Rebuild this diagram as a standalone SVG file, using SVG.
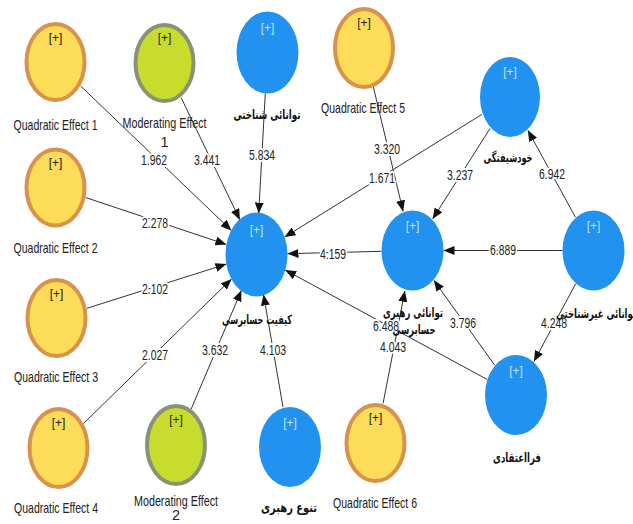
<svg xmlns="http://www.w3.org/2000/svg" width="633" height="524" viewBox="0 0 633 524">
<style>
.bg{fill:#ffffff}
.yel{fill:#fcdc58;stroke:#d8924c;stroke-width:4}
.grn{fill:#c7dc2c;stroke:#8a9276;stroke-width:4}
.blu{fill:#2192ef}
.plus{font-family:"Liberation Sans",sans-serif;font-size:12px;text-anchor:middle;fill:#222}
.plusb{font-family:"Liberation Sans",sans-serif;font-size:12px;text-anchor:middle;fill:#bfe3ff}
.lab{font-family:"Liberation Sans",sans-serif;font-size:14.5px;text-anchor:middle;fill:#222}
.fa{font-family:"DejaVu Sans",sans-serif;font-weight:bold;font-size:13px;text-anchor:middle;fill:#111}
.edge{stroke:#333;stroke-width:1;fill:none;marker-end:url(#arr)}
.w{font-family:"Liberation Sans",sans-serif;font-size:14px;text-anchor:middle;fill:#222;stroke:#fff;stroke-width:4;paint-order:stroke;stroke-linejoin:round}
</style>
<defs>
<marker id="arr" markerUnits="userSpaceOnUse" markerWidth="11" markerHeight="9" refX="11" refY="4.5" orient="auto">
<path d="M0,0 L11,4.5 L0,9 z" fill="#111"/>
</marker>
</defs>
<rect class="bg" x="0" y="0" width="633" height="524"/>
<g id="connectors">
<line class="edge" x1="80.6" y1="86" x2="231.4" y2="230.5"/>
<line class="edge" x1="181.1" y1="97.6" x2="239.9" y2="219.9"/>
<line class="edge" x1="265.3" y1="93.4" x2="258.7" y2="213.6"/>
<line class="edge" x1="85.6" y1="197.5" x2="226.4" y2="244.5"/>
<line class="edge" x1="86.6" y1="308.4" x2="226.4" y2="264.1"/>
<line class="edge" x1="83.4" y1="423.6" x2="231.6" y2="278.9"/>
<line class="edge" x1="191.1" y1="409.2" x2="241.4" y2="290.3"/>
<line class="edge" x1="283" y1="407" x2="263.5" y2="294.5"/>
<line class="edge" x1="381.5" y1="251.3" x2="287.5" y2="253.7"/>
<line class="edge" x1="481.9" y1="114.4" x2="284.6" y2="237.1"/>
<line class="edge" x1="487.3" y1="379.5" x2="285.2" y2="270"/>
<line class="edge" x1="373.4" y1="87.1" x2="403.1" y2="211.4"/>
<line class="edge" x1="490.1" y1="128.4" x2="432.6" y2="219.1"/>
<line class="edge" x1="562.5" y1="250.5" x2="443.5" y2="250.5"/>
<line class="edge" x1="575.4" y1="217.2" x2="527.9" y2="130.3"/>
<line class="edge" x1="575.6" y1="283.9" x2="533.9" y2="361.6"/>
<line class="edge" x1="494.7" y1="365.2" x2="433.8" y2="280.3"/>
<line class="edge" x1="383.1" y1="403.3" x2="404.9" y2="290.8"/>
<text class="w" x="154" y="165" textLength="26" lengthAdjust="spacingAndGlyphs">1.962</text>
<text class="w" x="207" y="165" textLength="26" lengthAdjust="spacingAndGlyphs">3.441</text>
<text class="w" x="262" y="160" textLength="26" lengthAdjust="spacingAndGlyphs">5.834</text>
<text class="w" x="155" y="228" textLength="26" lengthAdjust="spacingAndGlyphs">2.278</text>
<text class="w" x="155" y="294" textLength="26" lengthAdjust="spacingAndGlyphs">2.102</text>
<text class="w" x="155" y="360" textLength="26" lengthAdjust="spacingAndGlyphs">2.027</text>
<text class="w" x="215" y="355" textLength="26" lengthAdjust="spacingAndGlyphs">3.632</text>
<text class="w" x="273" y="355" textLength="26" lengthAdjust="spacingAndGlyphs">4.103</text>
<text class="w" x="333" y="259" textLength="26" lengthAdjust="spacingAndGlyphs">4.159</text>
<text class="w" x="382" y="183" textLength="26" lengthAdjust="spacingAndGlyphs">1.671</text>
<text class="w" x="386" y="331" textLength="26" lengthAdjust="spacingAndGlyphs">6.488</text>
<text class="w" x="387" y="154" textLength="26" lengthAdjust="spacingAndGlyphs">3.320</text>
<text class="w" x="460" y="180" textLength="26" lengthAdjust="spacingAndGlyphs">3.237</text>
<text class="w" x="503" y="255" textLength="26" lengthAdjust="spacingAndGlyphs">6.889</text>
<text class="w" x="552" y="179" textLength="26" lengthAdjust="spacingAndGlyphs">6.942</text>
<text class="w" x="554" y="328" textLength="26" lengthAdjust="spacingAndGlyphs">4.248</text>
<text class="w" x="463" y="328" textLength="26" lengthAdjust="spacingAndGlyphs">3.796</text>
<text class="w" x="393" y="352" textLength="26" lengthAdjust="spacingAndGlyphs">4.043</text>
</g>
<g id="qe1">
<ellipse class="yel" cx="55.5" cy="62" rx="29" ry="38"/>
<text class="plus" x="55.5" y="42">[+]</text>
<text class="lab" x="55.5" y="130" textLength="84" lengthAdjust="spacingAndGlyphs">Quadratic Effect 1</text>
</g>
<g id="me1">
<ellipse class="grn" cx="164.5" cy="63" rx="29" ry="38"/>
<text class="plus" x="164.5" y="42">[+]</text>
<text class="lab" x="164.5" y="128" textLength="84" lengthAdjust="spacingAndGlyphs">Moderating Effect</text>
<text class="lab" x="164.5" y="147">1</text>
</g>
<g id="ts">
<ellipse class="blu" cx="267.5" cy="52.5" rx="31" ry="41"/>
<text class="plusb" x="267.5" y="32">[+]</text>
<text class="fa" x="267" y="119" textLength="67" lengthAdjust="spacingAndGlyphs">توانائی شناختی</text>
</g>
<g id="qe5">
<ellipse class="yel" cx="364" cy="48" rx="29" ry="39"/>
<text class="plus" x="364" y="27">[+]</text>
<text class="lab" x="363" y="113" textLength="84" lengthAdjust="spacingAndGlyphs">Quadratic Effect 5</text>
</g>
<g id="kh">
<ellipse class="blu" cx="510" cy="97" rx="30" ry="40"/>
<text class="plusb" x="510" y="76">[+]</text>
<text class="fa" x="508" y="162" textLength="49" lengthAdjust="spacingAndGlyphs">خودشیفتگی</text>
</g>
<g id="qe2">
<ellipse class="yel" cx="55.5" cy="187.5" rx="29" ry="38"/>
<text class="plus" x="55.5" y="167">[+]</text>
<text class="lab" x="55.5" y="253" textLength="84" lengthAdjust="spacingAndGlyphs">Quadratic Effect 2</text>
</g>
<g id="kq">
<ellipse class="blu" cx="256.5" cy="254.5" rx="31" ry="42"/>
<text class="plusb" x="256.5" y="234">[+]</text>
<text class="fa" x="257" y="324" textLength="70" lengthAdjust="spacingAndGlyphs">کیفیت حسابرسی</text>
</g>
<g id="rh">
<ellipse class="blu" cx="412.5" cy="250.5" rx="31" ry="40"/>
<text class="plusb" x="412.5" y="230">[+]</text>
<text class="fa" x="413" y="317" textLength="60" lengthAdjust="spacingAndGlyphs">توانائی رهبری</text>
<text class="fa" x="414" y="334" textLength="43" lengthAdjust="spacingAndGlyphs">حسابرسی</text>
</g>
<g id="gs">
<ellipse class="blu" cx="593.5" cy="250.5" rx="31" ry="40"/>
<text class="plusb" x="593.5" y="230">[+]</text>
<text class="fa" x="596" y="318" textLength="80" lengthAdjust="spacingAndGlyphs">توانائی غیرشناختی</text>
</g>
<g id="qe3">
<ellipse class="yel" cx="56.5" cy="318" rx="29" ry="38"/>
<text class="plus" x="56.5" y="298">[+]</text>
<text class="lab" x="56" y="382" textLength="84" lengthAdjust="spacingAndGlyphs">Quadratic Effect 3</text>
</g>
<g id="fe">
<ellipse class="blu" cx="516" cy="395" rx="31" ry="40"/>
<text class="plusb" x="516" y="375">[+]</text>
<text class="fa" x="517" y="462" textLength="48" lengthAdjust="spacingAndGlyphs">فرااعتقادی</text>
</g>
<g id="qe4">
<ellipse class="yel" cx="58.5" cy="448" rx="29" ry="39"/>
<text class="plus" x="58.5" y="427">[+]</text>
<text class="lab" x="56" y="513" textLength="84" lengthAdjust="spacingAndGlyphs">Quadratic Effect 4</text>
</g>
<g id="me2">
<ellipse class="grn" cx="176" cy="445" rx="29" ry="39"/>
<text class="plus" x="176" y="424">[+]</text>
<text class="lab" x="176" y="506" textLength="84" lengthAdjust="spacingAndGlyphs">Moderating Effect</text>
<text class="lab" x="176" y="520">2</text>
</g>
<g id="tr">
<ellipse class="blu" cx="290" cy="447" rx="31" ry="40"/>
<text class="plusb" x="290" y="427">[+]</text>
<text class="fa" x="289" y="512" textLength="56" lengthAdjust="spacingAndGlyphs">تنوع رهبری</text>
</g>
<g id="qe6">
<ellipse class="yel" cx="375.5" cy="443" rx="29" ry="38"/>
<text class="plus" x="375.5" y="422">[+]</text>
<text class="lab" x="375" y="508" textLength="84" lengthAdjust="spacingAndGlyphs">Quadratic Effect 6</text>
</g>
</svg>
